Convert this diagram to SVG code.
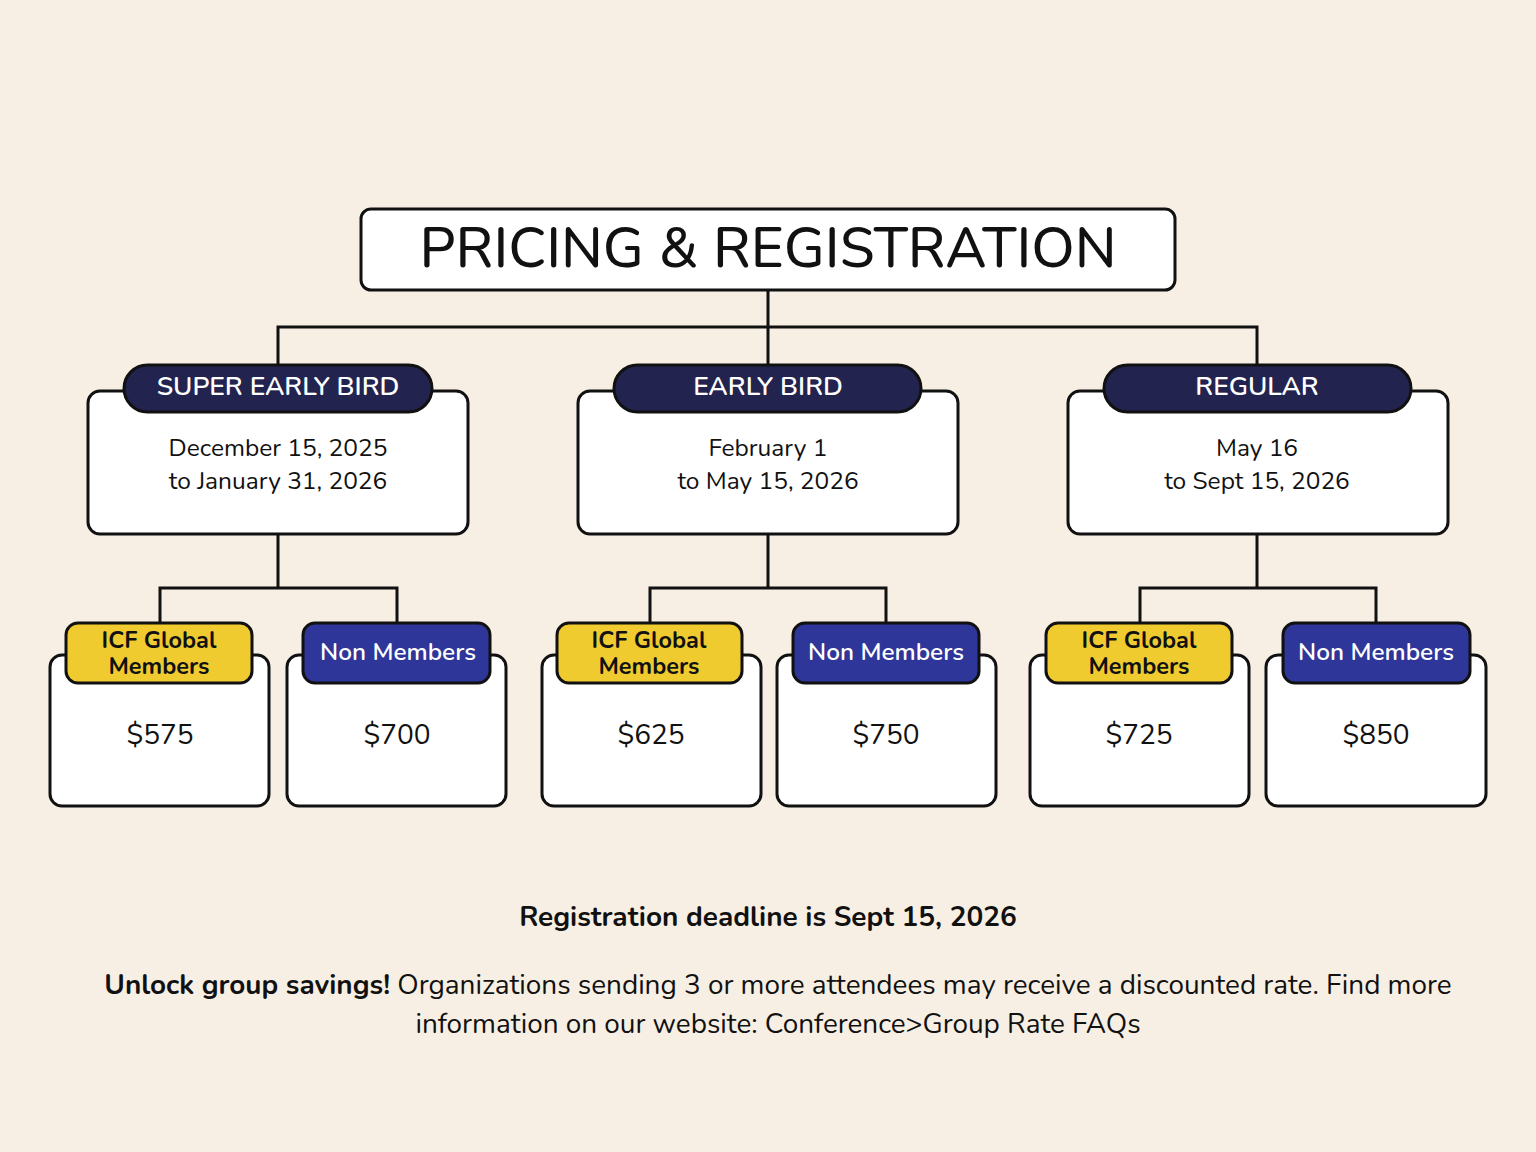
<svg xmlns="http://www.w3.org/2000/svg" width="1536" height="1152" viewBox="0 0 1536 1152">
<style>
text{font-family:"Nunito","Lato","Open Sans",sans-serif;text-anchor:middle;fill:#111}
.box{fill:#fff;stroke:#111;stroke-width:3}
.pill{fill:#232350;stroke:#111;stroke-width:3}
.yel{fill:#F0CB30;stroke:#111;stroke-width:3}
.blu{fill:#2E3799;stroke:#111;stroke-width:3}
.conn{fill:none;stroke:#111;stroke-width:3}
.hd{font-size:26.4px;font-weight:600;fill:#fff}
.dt{font-size:24.5px}
.tg{font-size:23.5px;font-weight:700}
.tgw{font-size:24.4px;font-weight:600;fill:#fff}
.pr{font-size:28px}
.ft{font-size:27.9px}
</style>
<rect width="1536" height="1152" fill="#F7EFE4"/>
<g id="connectors">
<path class="conn" d="M768 290V365M278 365V327H1257V365"/>
<path class="conn" d="M278 534V588M160 624V588H397V624"/>
<path class="conn" d="M768 534V588M650 624V588H886V624"/>
<path class="conn" d="M1257 534V588M1140 624V588H1376V624"/>
</g>
<g id="title">
<rect class="box" x="361" y="209" width="814" height="81" rx="10"/>
<text x="768" y="267" style="font-size:56.4px;font-weight:500">PRICING &amp; REGISTRATION</text>
</g>
<g id="super-early">
<rect class="box" x="88" y="391" width="380" height="143" rx="12"/>
<rect class="pill" x="124" y="365" width="308" height="47" rx="23.5"/>
<text class="hd" x="278" y="395">SUPER EARLY BIRD</text>
<text class="dt" x="278" y="456">December 15, 2025</text>
<text class="dt" x="278" y="489">to January 31, 2026</text>
</g>
<g id="early">
<rect class="box" x="578" y="391" width="380" height="143" rx="12"/>
<rect class="pill" x="614" y="365" width="307" height="47" rx="23.5"/>
<text class="hd" x="768" y="395">EARLY BIRD</text>
<text class="dt" x="768" y="456">February 1</text>
<text class="dt" x="768" y="489">to May 15, 2026</text>
</g>
<g id="regular">
<rect class="box" x="1068" y="391" width="380" height="143" rx="12"/>
<rect class="pill" x="1104" y="365" width="307" height="47" rx="23.5"/>
<text class="hd" x="1257" y="395">REGULAR</text>
<text class="dt" x="1257" y="456">May 16</text>
<text class="dt" x="1257" y="489">to Sept 15, 2026</text>
</g>
<g id="se-icf">
<rect class="box" x="50" y="655" width="219" height="151" rx="12"/>
<rect class="yel" x="66" y="623" width="186" height="60" rx="12"/>
<text class="tg" x="159" y="648">ICF Global</text>
<text class="tg" x="159" y="674">Members</text>
<text class="pr" x="160" y="744">$575</text>
</g>
<g id="se-non">
<rect class="box" x="287" y="655" width="219" height="151" rx="12"/>
<rect class="blu" x="303" y="623" width="187" height="60" rx="12"/>
<text class="tgw" x="398" y="660">Non Members</text>
<text class="pr" x="397" y="744">$700</text>
</g>
<g id="eb-icf">
<rect class="box" x="542" y="655" width="219" height="151" rx="12"/>
<rect class="yel" x="557" y="623" width="185" height="60" rx="12"/>
<text class="tg" x="649" y="648">ICF Global</text>
<text class="tg" x="649" y="674">Members</text>
<text class="pr" x="651" y="744">$625</text>
</g>
<g id="eb-non">
<rect class="box" x="777" y="655" width="219" height="151" rx="12"/>
<rect class="blu" x="793" y="623" width="186" height="60" rx="12"/>
<text class="tgw" x="886" y="660">Non Members</text>
<text class="pr" x="886" y="744">$750</text>
</g>
<g id="rg-icf">
<rect class="box" x="1030" y="655" width="219" height="151" rx="12"/>
<rect class="yel" x="1046" y="623" width="186" height="60" rx="12"/>
<text class="tg" x="1139" y="648">ICF Global</text>
<text class="tg" x="1139" y="674">Members</text>
<text class="pr" x="1139" y="744">$725</text>
</g>
<g id="rg-non">
<rect class="box" x="1266" y="655" width="220" height="151" rx="12"/>
<rect class="blu" x="1283" y="623" width="187" height="60" rx="12"/>
<text class="tgw" x="1376" y="660">Non Members</text>
<text class="pr" x="1376" y="744">$850</text>
</g>
<g id="footer">
<text class="ft" x="768" y="926" style="font-weight:700;font-size:28px">Registration deadline is Sept 15, 2026</text>
<text class="ft" x="778" y="994"><tspan style="font-weight:700">Unlock group savings!</tspan> Organizations sending 3 or more attendees may receive a discounted rate. Find more</text>
<text class="ft" x="778" y="1033">information on our website: Conference&gt;Group Rate FAQs</text>
</g>
</svg>
